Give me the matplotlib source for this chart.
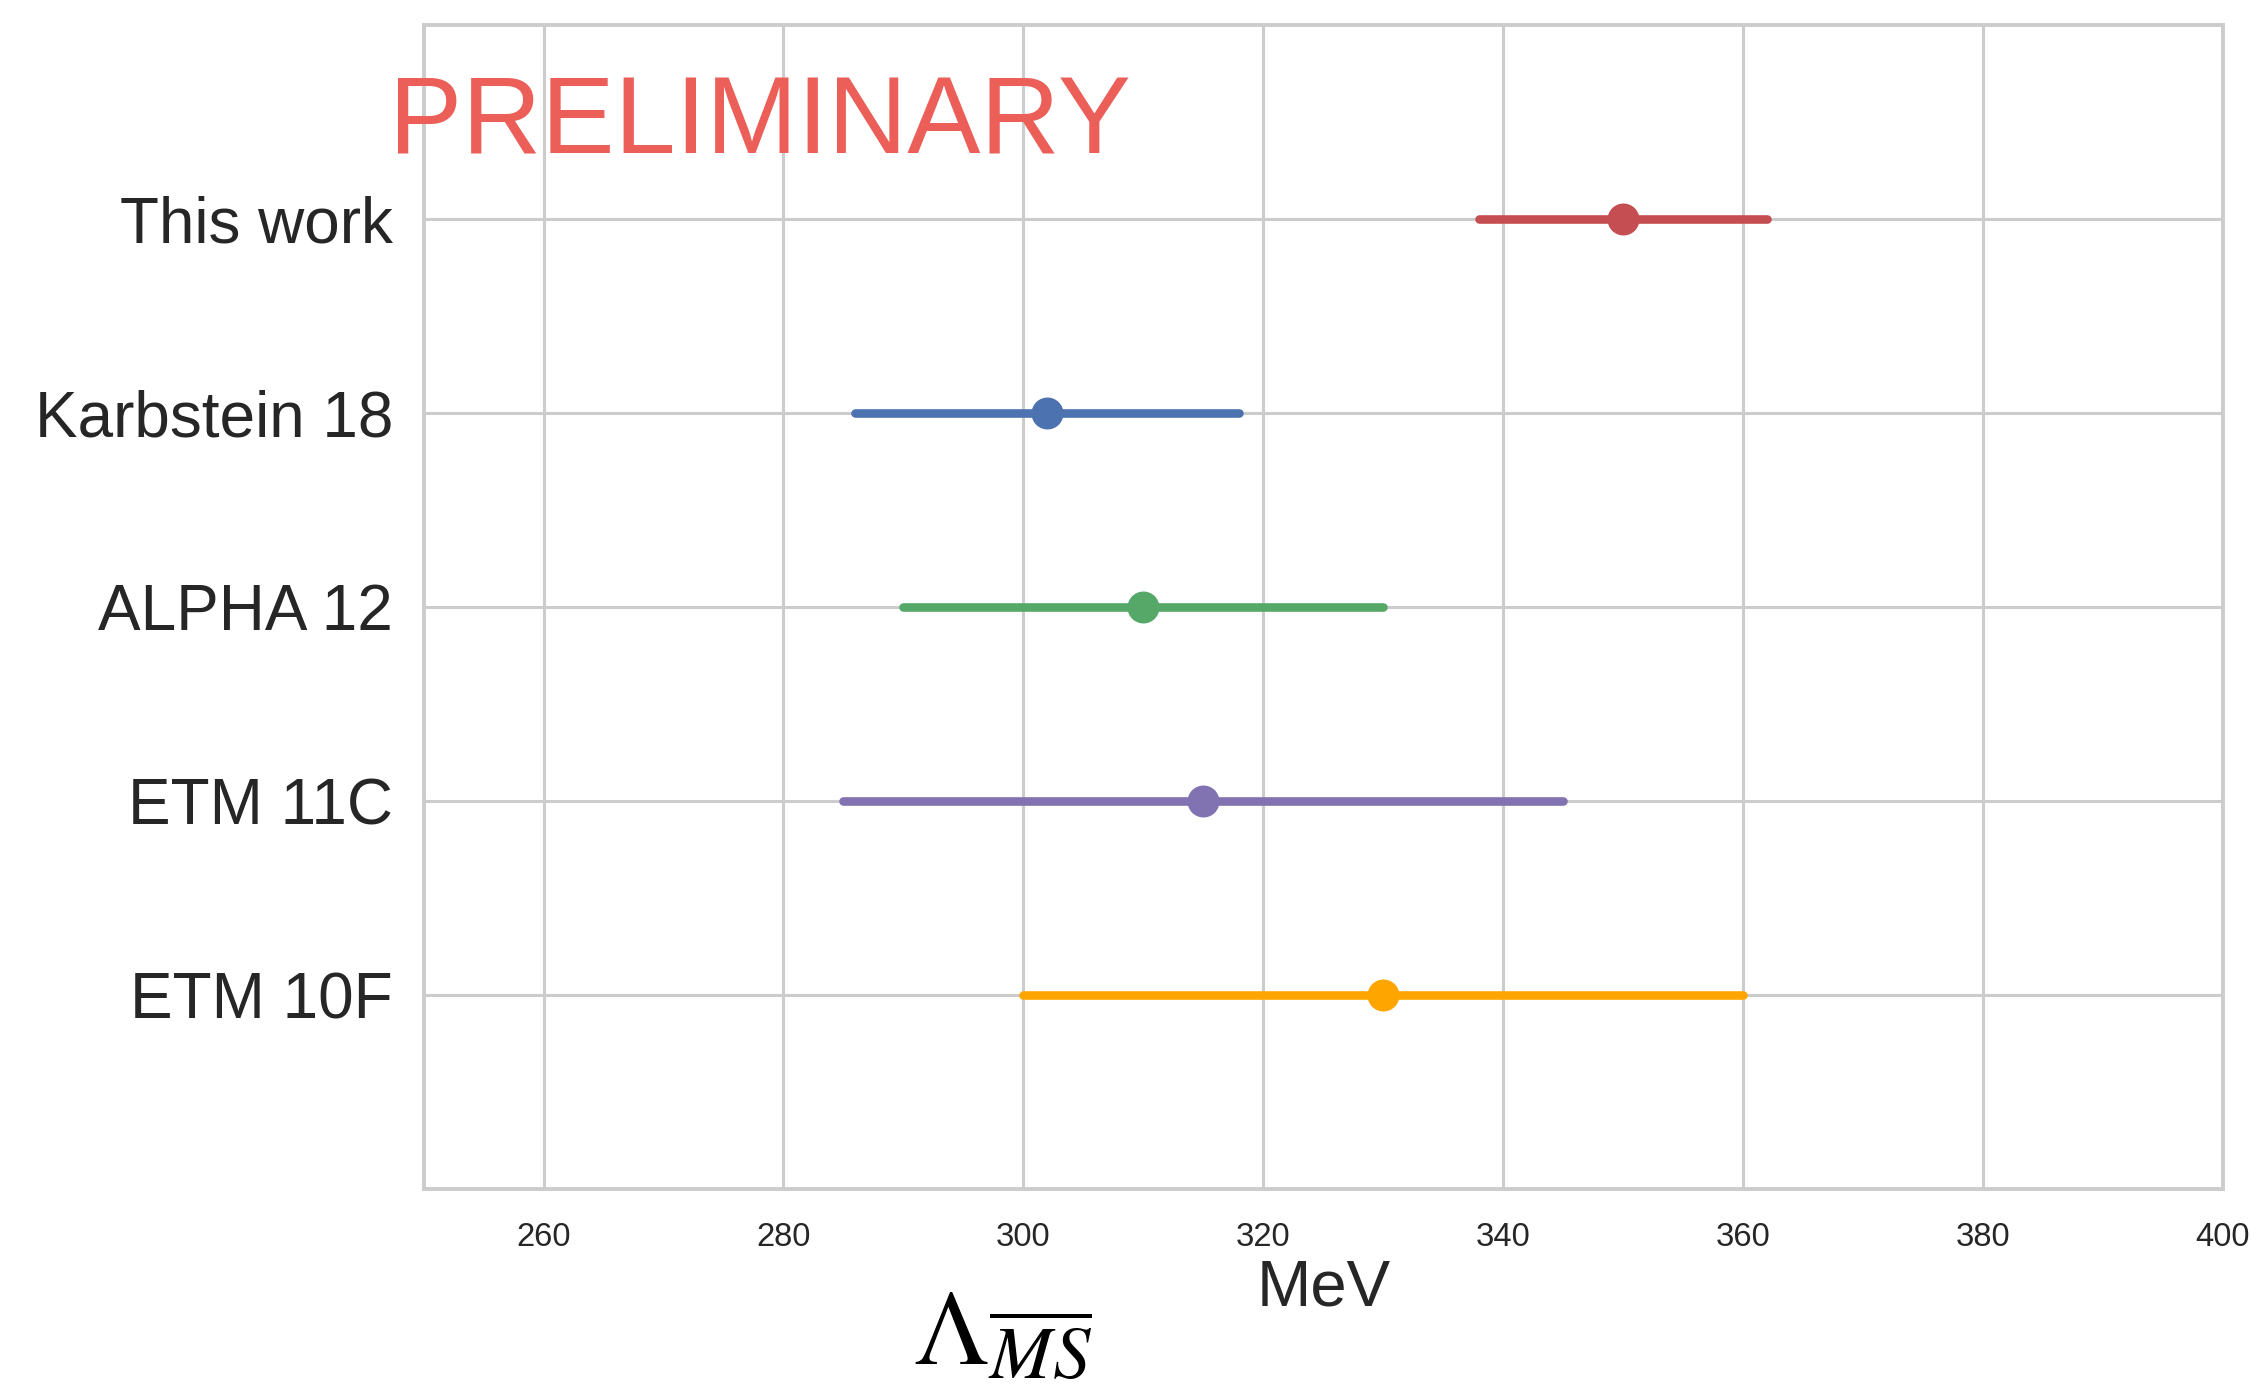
import matplotlib
matplotlib.use("Agg")
import matplotlib.pyplot as plt
import numpy as np

# Lambda_MSbar determinations (MeV): central value and symmetric error
labels = ["This work", "Karbstein 18", "ALPHA 12", "ETM 11C", "ETM 10F"]
centers = [350, 302, 310, 315, 330]
errors = [12, 16, 20, 30, 30]
colors = ["#C44E52", "#4C72B0", "#55A868", "#8172B2", "#FFA500"]
xticks = [260, 280, 300, 320, 340, 360, 380, 400]

plt.rcParams["font.family"] = ["Liberation Sans", "DejaVu Sans"]
plt.rcParams["mathtext.fontset"] = "stix"

fig = plt.figure(figsize=(2259 / 200, 1395 / 200), dpi=200)
ax = fig.add_axes([0.1875, 0.148, 0.7965, 0.8344])

ypos = np.arange(len(labels))
for y, c, e, col in zip(ypos, centers, errors, colors):
    ax.plot([c - e, c + e], [y, y], color=col, lw=3.1,
            solid_capstyle="round", zorder=3)
    ax.plot([c], [y], "o", color=col, ms=10.5, zorder=4)

ax.set_xlim(250, 400)
ax.set_ylim(len(labels), -1)
ax.set_xticks(xticks)
ax.set_yticks(ypos)
ax.set_yticklabels(labels, fontsize=23, color="#262626")
ax.tick_params(axis="x", labelsize=11.8, colors="#262626", length=0, pad=12)
ax.tick_params(axis="y", length=0, pad=11)
ax.set_xlabel("MeV", fontsize=23.5, color="#262626", labelpad=2)

ax.grid(True, color="#cccccc", lw=1.1, zorder=0)
ax.set_axisbelow(True)
for s in ax.spines.values():
    s.set_color("#cccccc")
    s.set_linewidth(1.4)

fig.text(389 / 2259, 1 - 154 / 1395, "PRELIMINARY", fontsize=39.5,
         color="#EC5F59", ha="left", va="baseline")
fig.text(1003 / 2259, 1 - 1286 / 1395, r"$\Lambda_{\overline{MS}}$",
         fontsize=38.5, color="black", ha="center", va="top")

fig.savefig("out.png", dpi=200)
